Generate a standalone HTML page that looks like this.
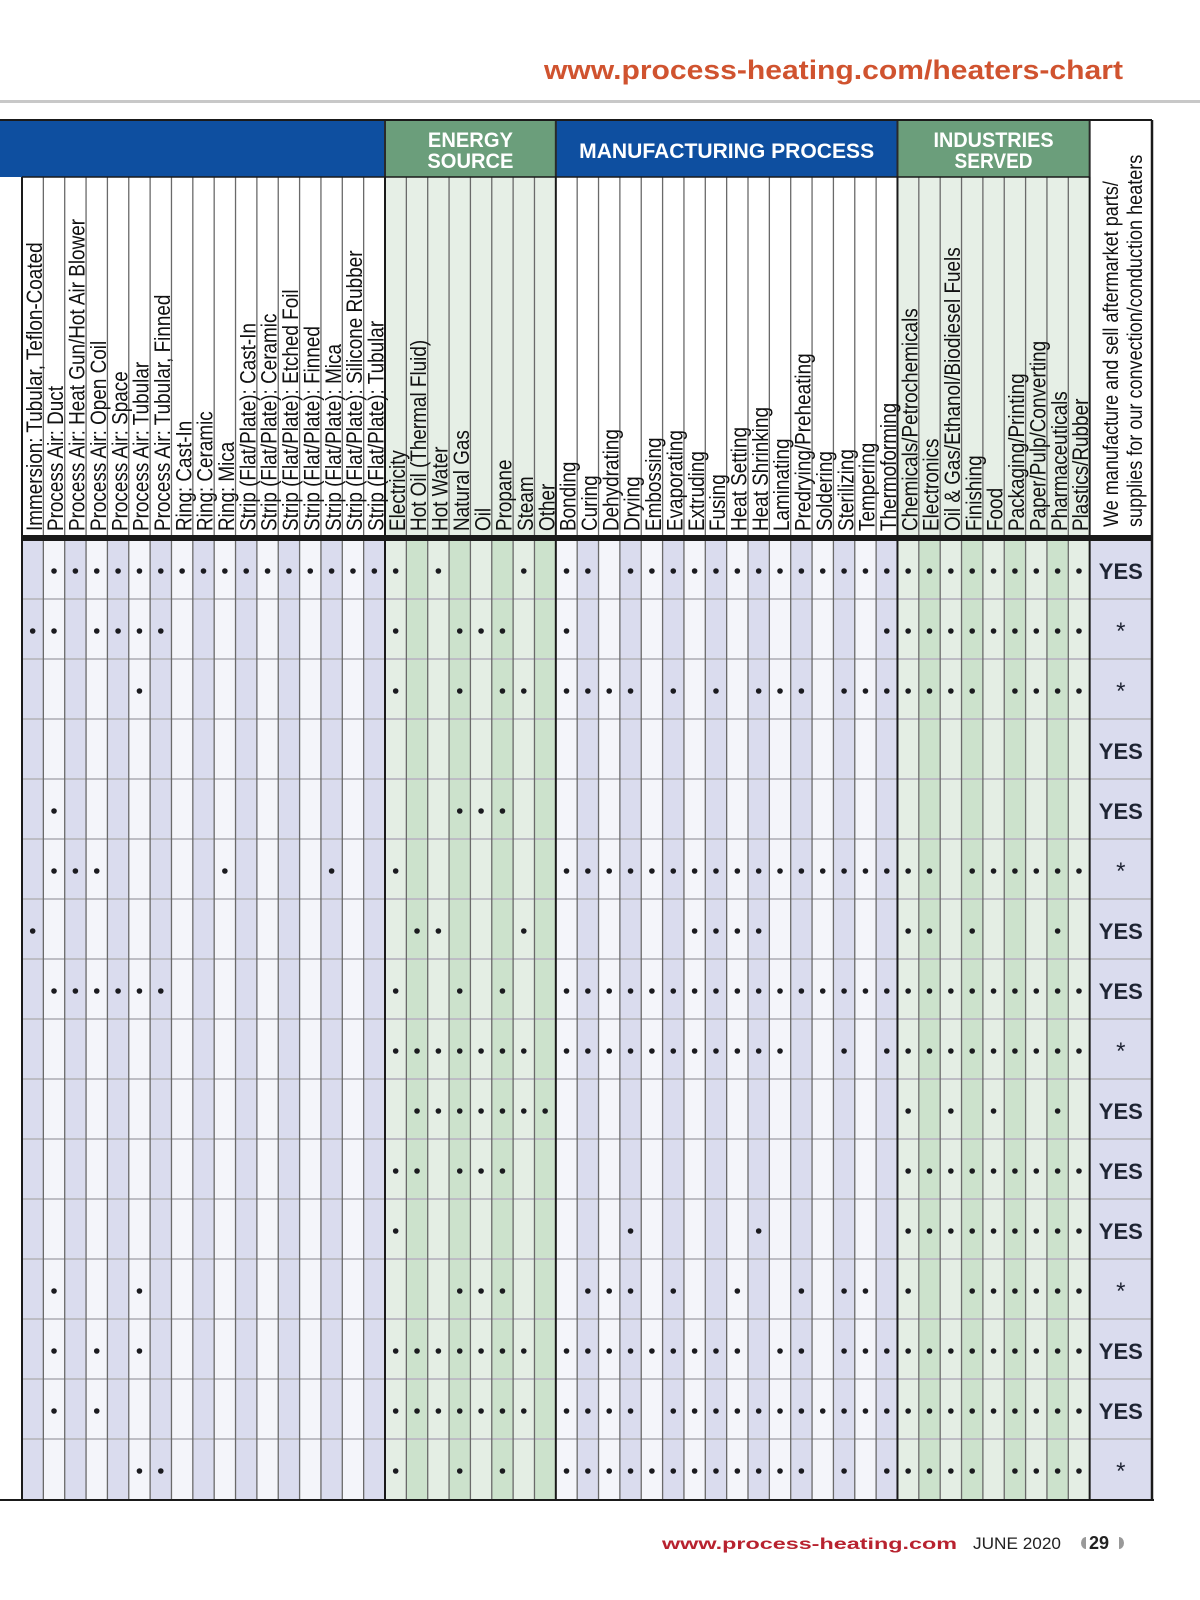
<!DOCTYPE html>
<html><head><meta charset="utf-8">
<style>
html,body{margin:0;padding:0;background:#fff;}
svg{display:block;}
.lbl{font-family:"Liberation Sans Narrow","Liberation Sans",sans-serif;font-size:22px;fill:#111;}
.sec{font-family:"Liberation Sans",sans-serif;font-weight:bold;font-size:21px;fill:#fff;}
.ans{font-family:"Liberation Sans",sans-serif;font-weight:bold;font-size:22px;fill:#1e2433;}
</style></head>
<body>
<svg id="chart" width="1200" height="1600" viewBox="0 0 1200 1600" xmlns="http://www.w3.org/2000/svg">
<text x="544" y="79" textLength="579" lengthAdjust="spacingAndGlyphs" style="font-family:'Liberation Sans',sans-serif;font-weight:bold;font-size:27px;fill:#d0532f;">www.process-heating.com/heaters-chart</text>
<rect x="0" y="100" width="1200" height="3" fill="#c8c8c8"/>
<g id="grid"></g>
<text x="662" y="1549" textLength="295" lengthAdjust="spacingAndGlyphs" style="font-family:'Liberation Sans',sans-serif;font-weight:bold;font-size:16px;fill:#b8222f;">www.process-heating.com</text>
<text x="973" y="1549" textLength="88" lengthAdjust="spacingAndGlyphs" style="font-family:'Liberation Sans',sans-serif;font-size:17px;fill:#222;">JUNE 2020</text>
<path d="M1086,1537 a5,6 0 0,0 0,12 z" fill="#999"/>
<text x="1089" y="1549" style="font-family:'Liberation Sans',sans-serif;font-weight:bold;font-size:18px;fill:#222;">29</text>
<path d="M1119,1537 a5,6 0 0,1 0,12 z" fill="#999"/>
</svg>
<script>
const heaterLabels=["Immersion: Tubular, Teflon-Coated","Process Air: Duct","Process Air: Heat Gun/Hot Air Blower","Process Air: Open Coil","Process Air: Space","Process Air: Tubular","Process Air: Tubular, Finned","Ring: Cast-In","Ring: Ceramic","Ring: Mica","Strip (Flat/Plate): Cast-In","Strip (Flat/Plate): Ceramic","Strip (Flat/Plate): Etched Foil","Strip (Flat/Plate): Finned","Strip (Flat/Plate): Mica","Strip (Flat/Plate): Silicone Rubber","Strip (Flat/Plate): Tubular"];
const energyLabels=["Electricity","Hot Oil (Thermal Fluid)","Hot Water","Natural Gas","Oil","Propane","Steam","Other"];
const mfgLabels=["Bonding","Curing","Dehydrating","Drying","Embossing","Evaporating","Extruding","Fusing","Heat Setting","Heat Shrinking","Laminating","Predrying/Preheating","Soldering","Sterilizing","Tempering","Thermoforming"];
const industryLabels=["Chemicals/Petrochemicals","Electronics","Oil & Gas/Ethanol/Biodiesel Fuels","Finishing","Food","Packaging/Printing","Paper/Pulp/Converting","Pharmaceuticals","Plastics/Rubber"];
const heaterRows=["01111111111111111","11011110000000000","00000100000000000","00000000000000000","01000000000000000","01110000010000100","10000000000000000","01111110000000000","00000000000000000","00000000000000000","00000000000000000","00000000000000000","01000100000000000","01010100000000000","01010000000000000","00000110000000000"];
const energyRows=["10100010","10011100","10010110","00000000","00011100","10000000","01100010","10010100","11111110","01111111","11011100","10000000","00011100","11111110","11111110","10010100"];
const mfgRows=["1101111111111111","1000000000000001","1111010101110111","0000000000000000","0000000000000000","1111111111111111","0000001111000000","1111111111111111","1111111111100101","0000000000000000","0000000000000000","0001000001000000","0111010010010110","1111111110110111","1111011111111111","1111111111110101"];
const industryRows=["111111111","111111111","111101111","000000000","000000000","110111111","110100010","111111111","111111111","101010010","111111111","111111111","100111111","111111111","111111111","111101111"];
const answers=["YES","*","*","YES","YES","*","YES","YES","*","YES","YES","YES","*","YES","YES","*"];

const NS="http://www.w3.org/2000/svg";
const g=document.getElementById('grid');
const X0=22, CW=21.353, TOP=120, HB=177, HE=535, RT=541, RH=60, NR=16;
const LASTX=X0+50*CW, RIGHT=1152, BOTTOM=RT+NR*RH-2;
const SQ=0.86;
function colX(i){return X0+i*CW;}
function rowY(r){return 539+r*RH;}
function mk(tag,attrs){const e=document.createElementNS(NS,tag);for(const k in attrs)e.setAttribute(k,attrs[k]);g.appendChild(e);return e;}

const groups=[
 {labels:heaterLabels,rows:heaterRows,start:0,type:'blue',name:'heater-type'},
 {labels:energyLabels,rows:energyRows,start:17,type:'green',name:'energy-source'},
 {labels:mfgLabels,rows:mfgRows,start:25,type:'blue',name:'manufacturing-process'},
 {labels:industryLabels,rows:industryRows,start:41,type:'green',name:'industry'}
];
let e;
e=mk('rect',{x:0,y:TOP,width:colX(17),height:HB-TOP,fill:'#0e4fa0'});


e=mk('rect',{x:colX(17),y:TOP,width:colX(25)-colX(17),height:HB-TOP,fill:'#6b9e7b'});


e=mk('rect',{x:colX(25),y:TOP,width:colX(41)-colX(25),height:HB-TOP,fill:'#0e4fa0'});


e=mk('rect',{x:colX(41),y:TOP,width:colX(50)-colX(41),height:HB-TOP,fill:'#6b9e7b'});


e=mk('rect',{x:LASTX,y:TOP,width:RIGHT-LASTX,height:HE-TOP,fill:'#fff'});



groups.forEach(gr=>{
  gr.labels.forEach((lab,i)=>{
    const ci=gr.start+i, x=colX(ci);
    const alt=(ci%2===0);
    let hdr, body;
    if(gr.type==='blue'){hdr='#ffffff'; body=alt?'#dadcee':'#f4f5fa';}
    else {hdr='#e6efe6'; body=(i%2===0)?'#e4eee4':'#cce2cc';}
    const h=mk('rect',{x:x,y:HB,width:CW,height:HE-HB,fill:hdr});
    
    
    const b=mk('rect',{x:x,y:RT,width:CW,height:BOTTOM-RT,fill:body});
    
    
  });
});
e=mk('rect',{x:LASTX,y:RT,width:RIGHT-LASTX,height:BOTTOM-RT,fill:'#dadcee'});



for(let r=1;r<NR;r++){
  const l=mk('line',{x1:X0,x2:RIGHT,y1:rowY(r),y2:rowY(r),stroke:'#bdbdc4','stroke-width':2});
  
  
}
const secB=[0,17,25,41,50];
for(let i=0;i<=50;i++){
  const sec=secB.includes(i);
  const l=mk('line',{x1:colX(i),x2:colX(i),y1:HB,y2:BOTTOM,stroke:sec?'#1a1a1a':'#6a6a6a','stroke-width':sec?2:1.3});
  
  
}
[[colX(17)],[colX(25)],[colX(41)],[LASTX]].forEach(a=>{
  const l=mk('line',{x1:a[0],x2:a[0],y1:TOP,y2:HB,stroke:'#2a2a2a','stroke-width':2});
  
  
});
e=mk('line',{x1:0,x2:RIGHT,y1:TOP,y2:TOP,stroke:'#1a1a1a','stroke-width':2});


e=mk('line',{x1:X0,x2:LASTX,y1:HB,y2:HB,stroke:'#1a1a1a','stroke-width':1.5});


e=mk('rect',{x:X0,y:HE,width:RIGHT-X0,height:6,fill:'#1a1a1a'});


e=mk('line',{x1:0,x2:RIGHT+2,y1:BOTTOM+1,y2:BOTTOM+1,stroke:'#1a1a1a','stroke-width':2});


e=mk('line',{x1:RIGHT,x2:RIGHT,y1:TOP,y2:BOTTOM+1,stroke:'#1a1a1a','stroke-width':2.5});



function secText(txt,cx,y,w,name){
  const t=mk('text',{x:cx,y:y,'text-anchor':'middle','class':'sec',textLength:w,lengthAdjust:'spacingAndGlyphs'});
  t.textContent=txt;
  
  
}
secText('ENERGY',(colX(17)+colX(25))/2,147,85,'energy-source-title');
secText('SOURCE',(colX(17)+colX(25))/2,168,86,'energy-source-title-line2');
secText('MANUFACTURING PROCESS',(colX(25)+colX(41))/2,158,295,'manufacturing-process-title');
secText('INDUSTRIES',(colX(41)+colX(50))/2,147,120,'industries-served-title');
secText('SERVED',(colX(41)+colX(50))/2,168,78,'industries-served-title-line2');

groups.forEach(gr=>{
  gr.labels.forEach((lab,i)=>{
    const ci=gr.start+i, xb=colX(ci+1)-1.5;
    const t=mk('text',{'class':'lbl',transform:`translate(${xb},531) rotate(-90) scale(${SQ},1)`});
    t.textContent=lab;
    
    
  });
  gr.rows.forEach((row,r)=>{
    for(let i=0;i<row.length;i++){
      if(row[i]==='1'){
        const d=mk('circle',{cx:colX(gr.start+i)+CW/2,cy:rowY(r)+RH/2+2,r:2.8,fill:'#1b1b1f'});
        
        
      }
    }
  });
});
const a1=mk('text',{'class':'lbl',transform:`translate(1118,527) rotate(-90) scale(${SQ},1)`,style:'font-size:21px'});
a1.textContent='We manufacture and sell aftermarket parts/';


const a2=mk('text',{'class':'lbl',transform:`translate(1142,527) rotate(-90) scale(${SQ},1)`,style:'font-size:21px'});
a2.textContent='supplies for our convection/conduction heaters';


answers.forEach((a,r)=>{
  const t=mk('text',{x:(LASTX+RIGHT)/2,y:rowY(r)+RH/2+(a==='*'?10:10),'text-anchor':'middle','class':'ans',style:a==='*'?'font-weight:normal;font-size:24px':''});
  t.textContent=a;
  
  
});
</script>
</body></html>
